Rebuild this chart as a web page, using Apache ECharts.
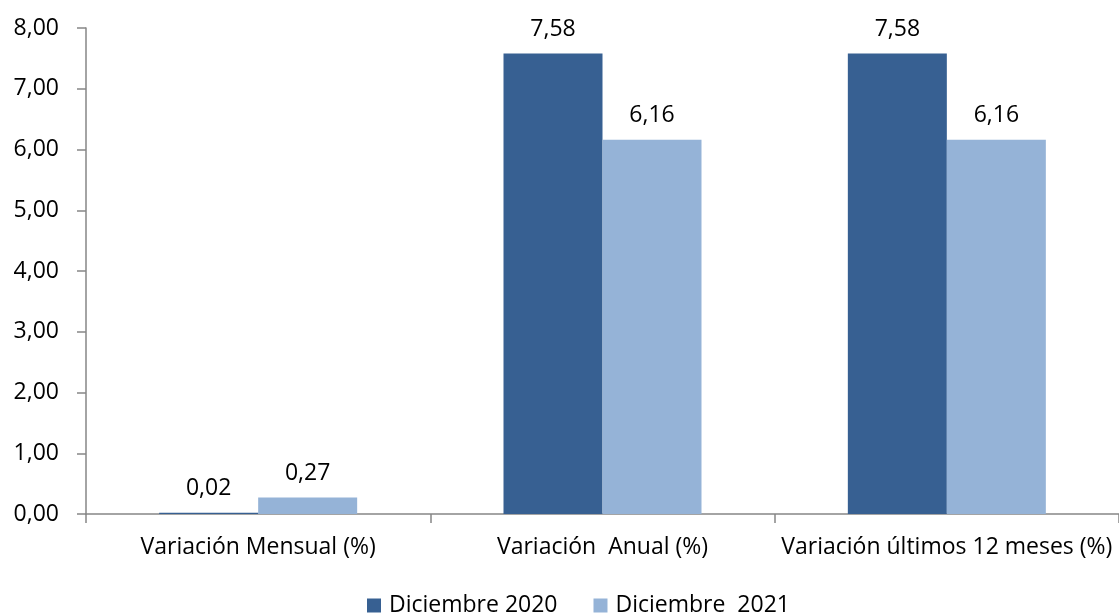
<!DOCTYPE html>
<html><head><meta charset="utf-8">
<script src="https://cdn.jsdelivr.net/npm/echarts@6/dist/echarts.min.js"></script>
<style>html,body{margin:0;padding:0;background:#fff}#c{width:1119px;height:613px}</style>
</head><body><div id="c"></div>
<script>
var categories = ['Variación Mensual (%)', 'Variación  Anual (%)', 'Variación últimos 12 meses (%)'];
var seriesNames = ['Diciembre 2020', 'Diciembre  2021'];
var dic2020 = [0.02, 7.58, 7.58];
var dic2021 = [0.27, 6.16, 6.16];
var yTicks = [0, 1, 2, 3, 4, 5, 6, 7, 8];

var FONT = 'Open Sans';
var FS = 23;
function fmt(v){ return Number(v).toFixed(2).replace('.', ','); }
var chart = echarts.init(document.getElementById('c'));
var labelCfg = {show:true, position:'top', distance:13, color:'#000', fontFamily:FONT, fontSize:FS, formatter:function(p){return fmt(p.value);}};
chart.setOption({
  animation:false,
  grid:{left:86, top:28, right:-5, bottom:99, containLabel:false},
  legend:{bottom:-9, left:362, itemWidth:14, itemHeight:14, itemGap:36, icon:'rect',
    textStyle:{fontFamily:FONT, fontSize:FS, color:'#000', padding:[0,0,0,3]},
    data:seriesNames},
  xAxis:{type:'category', data:categories,
    axisLine:{lineStyle:{color:'#868686', width:1.5}},
    axisTick:{show:true, length:9, lineStyle:{color:'#868686', width:1.5}},
    axisLabel:{interval:0, fontFamily:FONT, fontSize:FS, color:'#000', margin:22}},
  yAxis:{type:'value', min:yTicks[0], max:yTicks[yTicks.length-1], interval:1,
    axisLine:{show:true, lineStyle:{color:'#868686', width:1.5}},
    axisTick:{show:true, length:9, lineStyle:{color:'#868686', width:1.5}},
    splitLine:{show:false},
    axisLabel:{fontFamily:FONT, fontSize:FS, color:'#000', margin:27, formatter:function(v){return fmt(v);}}},
  series:[
    {name:seriesNames[0], type:'bar', data:dic2020, barWidth:99, barGap:'0%', itemStyle:{color:'#376092'}, label:labelCfg},
    {name:seriesNames[1], type:'bar', data:dic2021, barWidth:99, barGap:'0%', itemStyle:{color:'#95B3D7'}, label:labelCfg}
  ]
});
</script></body></html>
